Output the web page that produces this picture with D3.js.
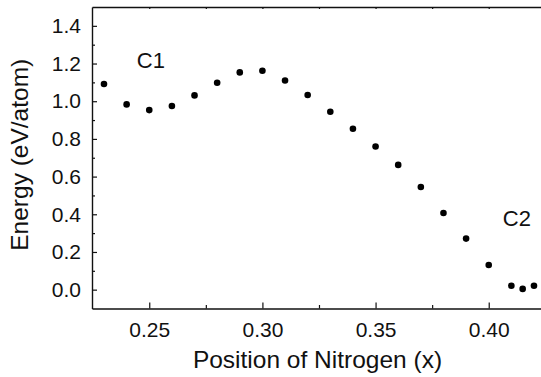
<!DOCTYPE html>
<html>
<head>
<meta charset="utf-8">
<script src="https://cdn.jsdelivr.net/npm/d3@7"></script>
<style>
  html, body { margin: 0; padding: 0; background: #fff; }
  svg { display: block; font-family: "Liberation Sans", Arial, sans-serif; }
</style>
</head>
<body>
<svg id="chart" width="541" height="377"></svg>
<script>
const positions = [0.23, 0.24, 0.25, 0.26, 0.27, 0.28, 0.29, 0.30, 0.31, 0.32, 0.33, 0.34, 0.35, 0.36, 0.37, 0.38, 0.39, 0.40, 0.41, 0.415, 0.42];
const energies  = [1.091, 0.983, 0.953, 0.975, 1.031, 1.098, 1.153, 1.162, 1.110, 1.033, 0.944, 0.854, 0.760, 0.662, 0.545, 0.407, 0.271, 0.131, 0.021, 0.004, 0.021];
const xMajorTicks = [0.25, 0.30, 0.35, 0.40];
const xMinorTicks = [0.275, 0.325, 0.375];
const xTopTicks = [0.25, 0.275, 0.30, 0.325, 0.35, 0.375, 0.40];
const yMajorTicks = [0.0, 0.2, 0.4, 0.6, 0.8, 1.0, 1.2, 1.4];
const yMinorTicks = [0.1, 0.3, 0.5, 0.7, 0.9, 1.1, 1.3];
const annotations = [
  { label: "C1", x: 0.2445, y: 1.175 },
  { label: "C2", x: 0.4062, y: 0.34 }
];

(function () {
const mLeft = 92, mRight = 541, mTop = 7, mBottom = 308.5;
const x = d3.scaleLinear().domain([0.2247, 0.4231]).range([mLeft, mRight]);
const y = d3.scaleLinear().domain([-0.1, 1.5]).range([mBottom, mTop]);

const svg = d3.select("#chart");
const ink = "#111";

// Bottom axis: major ticks inward
const xAxis = d3.axisBottom(x).tickValues(xMajorTicks).tickFormat(d3.format(".2f"))
  .tickSizeInner(-6).tickSizeOuter(0).tickPadding(14);
const gx = svg.append("g").attr("transform", `translate(0,${mBottom})`).call(xAxis);
gx.select(".domain").attr("stroke", ink).attr("stroke-width", 1.4);
gx.selectAll(".tick line").attr("stroke", ink).attr("stroke-width", 1.2);
gx.selectAll(".tick text").attr("fill", ink).attr("font-size", 21).attr("dy", "0.71em")
  .attr("font-family", "Liberation Sans, Arial, sans-serif");
const gxm = svg.append("g").attr("transform", `translate(0,${mBottom})`)
  .call(d3.axisBottom(x).tickValues(xMinorTicks).tickFormat("").tickSizeInner(-3.5).tickSizeOuter(0));
gxm.select(".domain").remove();
gxm.selectAll(".tick line").attr("stroke", ink).attr("stroke-width", 1.2);

// Top axis line with small ticks
const gt = svg.append("g").attr("transform", `translate(0,${mTop})`)
  .call(d3.axisTop(x).tickValues(xTopTicks).tickFormat("").tickSizeInner(-2).tickSizeOuter(0));
gt.select(".domain").attr("stroke", ink).attr("stroke-width", 1.4);
gt.selectAll(".tick line").attr("stroke", ink).attr("stroke-width", 1.2);

// Left axis: ticks inward
const yAxis = d3.axisLeft(y).tickValues(yMajorTicks).tickFormat(d3.format(".1f"))
  .tickSizeInner(-5).tickSizeOuter(0).tickPadding(11);
const gy = svg.append("g").attr("transform", `translate(${mLeft},0)`).call(yAxis);
gy.select(".domain").attr("stroke", ink).attr("stroke-width", 1.4);
gy.selectAll(".tick line").attr("stroke", ink).attr("stroke-width", 1.2);
gy.selectAll(".tick text").attr("fill", ink).attr("font-size", 21)
  .attr("font-family", "Liberation Sans, Arial, sans-serif");
const gym = svg.append("g").attr("transform", `translate(${mLeft},0)`)
  .call(d3.axisLeft(y).tickValues(yMinorTicks).tickFormat("").tickSizeInner(-3).tickSizeOuter(0));
gym.select(".domain").remove();
gym.selectAll(".tick line").attr("stroke", ink).attr("stroke-width", 1.2);

// Data points
svg.append("g").selectAll("circle")
  .data(positions.map((p, i) => ({ p, e: energies[i] })))
  .join("circle")
  .attr("cx", d => x(d.p))
  .attr("cy", d => y(d.e))
  .attr("r", 3.3)
  .attr("fill", "#000");

// Annotations
svg.append("g").selectAll("text")
  .data(annotations)
  .join("text")
  .attr("x", d => x(d.x))
  .attr("y", d => y(d.y))
  .attr("font-size", 22)
  .attr("fill", ink)
  .text(d => d.label);

// Axis titles
svg.append("text")
  .attr("x", (mLeft + mRight) / 2 + 1)
  .attr("y", 368)
  .attr("text-anchor", "middle")
  .attr("font-size", 24.5)
  .attr("fill", ink)
  .text("Position of Nitrogen (x)");

svg.append("text")
  .attr("transform", `translate(28,${(mTop + mBottom) / 2 - 3}) rotate(-90)`)
  .attr("text-anchor", "middle")
  .attr("font-size", 24.5)
  .attr("fill", ink)
  .text("Energy (eV/atom)");
})();
</script>
</body>
</html>
